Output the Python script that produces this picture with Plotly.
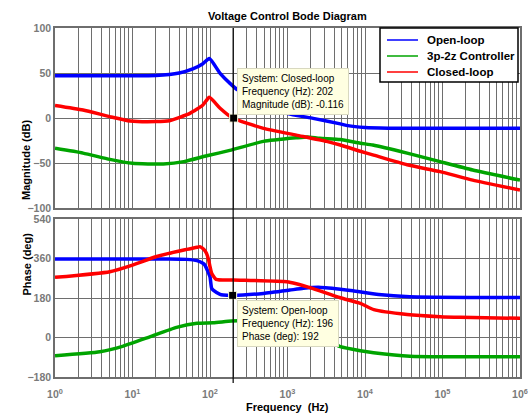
import plotly.graph_objects as go

# ---------------- data ----------------
# Magnitude (dB)
open_mag_f = [1, 5, 20, 40, 60, 80, 98, 135, 181, 230, 400, 600, 980, 2140, 4800, 6000, 10000, 20000, 30000, 1e6]
open_mag_v = [47, 47, 47.3, 50, 54.5, 60, 66, 49.6, 38.5, 31, 21, 13.3, 5.2, -0.4, -6.5, -8.5, -10.5, -11.3, -11.5, -11.5]

ctrl_mag_f = [1, 2.3, 5.1, 10, 25, 46, 91, 180, 490, 1300, 1800, 2600, 4800, 8700, 12600, 35000, 93000, 245000, 1e6]
ctrl_mag_v = [-33.7, -39, -46, -50.4, -51, -48.5, -42, -36, -26, -22, -21, -22.6, -24, -28, -30, -39, -48.5, -57.8, -69]

closed_mag_f = [1, 2.3, 5.1, 9.3, 20, 30, 55, 81, 98, 135, 195, 490, 1300, 3200, 4800, 8700, 12600, 35000, 93000, 245000, 1e6]
closed_mag_v = [14, 8.9, 1.5, -3.3, -4, -3, 5.2, 14.4, 23, 10.8, 0, -11.5, -19, -26, -30, -37, -41, -52, -59.6, -69, -80]

# Phase (deg)
open_ph_f = [1, 30, 50, 68, 81, 86, 96, 100, 105, 110, 135, 148, 196, 490, 1070, 1600, 2500, 4800, 7000, 15000, 38000, 1e6]
open_ph_v = [358, 358, 356, 350, 338, 330, 293, 277, 224, 216, 197, 194, 192, 201, 216, 224, 229, 220, 213, 196, 186, 182]

ctrl_ph_f = [1, 3.8, 7.6, 17, 37, 68, 110, 190, 400, 1000, 2000, 3000, 3900, 4800, 8700, 12900, 38000, 1e6]
ctrl_ph_v = [-83, -65, -39, 4, 46, 65, 67, 75, 78, 58, 22, -5, -26, -42, -60, -69, -85, -88]

closed_ph_f = [1, 5.1, 10, 20, 46, 68, 74, 83, 90, 96, 100, 105, 120, 200, 980, 1300, 2000, 4800, 8700, 13000, 35000, 93000, 170000, 1e6]
closed_ph_v = [274, 300, 330, 368, 399, 411, 414, 402, 384, 353, 323, 293, 265, 262, 254, 245, 226, 181, 156, 127, 105, 95, 92, 87.5]

series_names = ["Open-loop", "3p-2z Controller", "Closed-loop"]
series_colors = ["#0000FF", "#00A400", "#FF0000"]

# data tips
tip1_sys, tip1_f, tip1_v = "Closed-loop", 202, -0.116
tip2_sys, tip2_f, tip2_v = "Open-loop", 196, 192
cursor_f = 199

mag_ticks = [-100, -50, 0, 50, 100]
ph_ticks = [-180, 0, 180, 360, 540]

# ---------------- figure ----------------
FONT = "Liberation Sans, Arial, sans-serif"
GRID = "#6e6e6e"
TICKC = "#7a7a7a"

fig = go.Figure()

mag_sets = [(open_mag_f, open_mag_v), (ctrl_mag_f, ctrl_mag_v), (closed_mag_f, closed_mag_v)]
ph_sets = [(open_ph_f, open_ph_v), (ctrl_ph_f, ctrl_ph_v), (closed_ph_f, closed_ph_v)]

for (f, v), name, col in zip(mag_sets, series_names, series_colors):
    fig.add_trace(go.Scatter(x=f, y=v, mode="lines", name=name, showlegend=False,
                             line=dict(color=col, width=3.5, shape="spline", smoothing=0.5),
                             xaxis="x", yaxis="y"))
for (f, v), name, col in zip(ph_sets, series_names, series_colors):
    fig.add_trace(go.Scatter(x=f, y=v, mode="lines", name=name, showlegend=False,
                             line=dict(color=col, width=3.5, shape="spline", smoothing=0.5),
                             xaxis="x2", yaxis="y2"))

# data-tip markers
fig.add_trace(go.Scatter(x=[tip1_f], y=[tip1_v], mode="markers", showlegend=False,
                         marker=dict(symbol="square", size=8, color="black",
                                     line=dict(color="#FFFFE1", width=1)),
                         xaxis="x", yaxis="y"))
fig.add_trace(go.Scatter(x=[tip2_f], y=[tip2_v], mode="markers", showlegend=False,
                         marker=dict(symbol="square", size=8, color="black",
                                     line=dict(color="#FFFFE1", width=1)),
                         xaxis="x2", yaxis="y2"))

tickvals = [m * 10 ** d for d in range(6) for m in range(1, 10)] + [1e6]
ticktext = [("10<sup>%d</sup>" % d if m == 1 else "") for d in range(6) for m in range(1, 10)] + ["10<sup>6</sup>"]

axis_common = dict(showgrid=True, gridcolor=GRID, gridwidth=1.4, showline=True,
                   linecolor=GRID, linewidth=1.5, mirror=True, zeroline=False, ticks="",
                   automargin=False,
                   tickfont=dict(family=FONT, size=10.5, color=TICKC, weight="bold"))

H_TOP, H_GAP, H_BOT = 180, 11, 158
TOT = H_TOP + H_GAP + H_BOT
W = 465

fig.update_layout(
    width=531, height=419,
    margin=dict(l=55, r=11, t=28, b=42),
    paper_bgcolor="white", plot_bgcolor="white",
    xaxis=dict(type="log", range=[0, 6], tickvals=tickvals, ticktext=ticktext,
               showticklabels=False, anchor="y", domain=[0, 1], **axis_common),
    yaxis=dict(range=[-100, 100], tickvals=mag_ticks, domain=[(H_BOT + H_GAP) / TOT, 1],
               anchor="x", **axis_common),
    xaxis2=dict(type="log", range=[0, 6], tickvals=tickvals, ticktext=ticktext,
                anchor="y2", domain=[0, 1], ticklabelstandoff=7, **axis_common),
    yaxis2=dict(range=[-180, 540], tickvals=ph_ticks, domain=[0, H_BOT / TOT],
                anchor="x2", **axis_common),
    showlegend=False,
)

# cursor line (data coordinate on the frequency axis)
fig.add_shape(type="line", xref="x", yref="paper", x0=cursor_f, x1=cursor_f,
              y0=-0.017, y1=1, line=dict(color="black", width=1.2), layer="above")

# manual legend box (MATLAB style)
lx0, lx1 = (380 - 55) / W, (518 - 55) / W
ly0 = 1 - 54 / H_TOP
fig.add_shape(type="rect", xref="paper", yref="paper", x0=lx0, x1=lx1,
              y0=(H_BOT + H_GAP) / TOT + ly0 * H_TOP / TOT, y1=1,
              fillcolor="white", line=dict(color="black", width=1.5), layer="above")
for i, (name, col) in enumerate(zip(series_names, series_colors)):
    ypx = 12 + 16 * i  # px below top of magnitude panel
    yp = 1 - ypx / TOT
    fig.add_shape(type="line", xref="paper", yref="paper",
                  x0=(387 - 55) / W, x1=(418 - 55) / W, y0=yp, y1=yp,
                  line=dict(color=col, width=1.5), layer="above")
    fig.add_annotation(xref="paper", yref="paper", x=(425 - 55) / W, y=yp, xanchor="left",
                       yanchor="middle", text=name, showarrow=False,
                       font=dict(family=FONT, size=11.5, color="black", weight="bold"))

tipfont = dict(family=FONT, size=10, color="black")
fig.add_annotation(xref="x", yref="y", x=2.348, y=55.6, xanchor="left", yanchor="top",
                   text="System: %s<br>Frequency (Hz): %d<br>Magnitude (dB): %s" % (tip1_sys, tip1_f, tip1_v),
                   showarrow=False, align="left", bgcolor="#FFFFE1", bordercolor="#d8d8c0",
                   borderwidth=1, borderpad=4, font=tipfont)
fig.add_annotation(xref="x2", yref="y2", x=2.348, y=171, xanchor="left", yanchor="top",
                   text="System: %s<br>Frequency (Hz): %d<br>Phase (deg): %d" % (tip2_sys, tip2_f, tip2_v),
                   showarrow=False, align="left", bgcolor="#FFFFE1", bordercolor="#d8d8c0",
                   borderwidth=1, borderpad=4, font=tipfont)

bold = dict(family=FONT, size=11, color="black", weight="bold")
fig.add_annotation(xref="paper", yref="paper", x=0.5, y=1, yshift=12, yanchor="middle",
                   text="Voltage Control Bode Diagram", showarrow=False, font=bold)
fig.add_annotation(xref="paper", yref="paper", x=0.5, y=0, yshift=-30, yanchor="middle",
                   text="Frequency  (Hz)", showarrow=False, font=bold)
fig.add_annotation(xref="paper", yref="paper", x=0, xshift=-37, y=(H_BOT + H_GAP + H_TOP / 2) / TOT,
                   textangle=-90, text="Magnitude (dB)", showarrow=False, font=bold)
fig.add_annotation(xref="paper", yref="paper", x=0, xshift=-37, y=(H_BOT / 2) / TOT,
                   textangle=-90, text="Phase (deg)", showarrow=False, font=bold)

fig.write_html("out.html", config={"displayModeBar": False},
               post_script="document.body.style.margin='0';document.body.style.overflow='hidden';")
